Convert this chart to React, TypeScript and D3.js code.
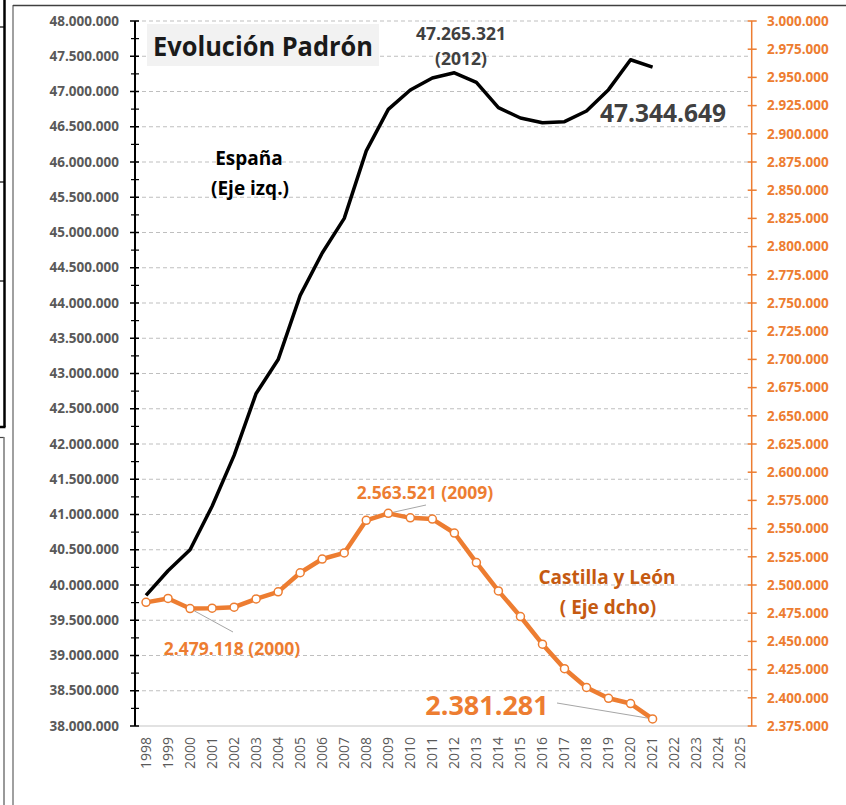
import React from "react";
import * as d3 from "d3";

const years: number[] = d3.range(1998, 2026);
const spainYears: number[] = d3.range(1998, 2022);
const spainValues: number[] = [
  39852651, 40202160, 40499791, 41116842, 41837894, 42717064, 43197684, 44108530,
  44708964, 45200737, 46157822, 46745807, 47021031, 47190493, 47265321, 47129783,
  46771341, 46624382, 46557008, 46572132, 46722980, 47026208, 47450795, 47344649,
];
const cylValues: number[] = [
  2484603, 2488062, 2479118, 2479425, 2480369, 2487646, 2493918, 2510849,
  2523020, 2528417, 2557330, 2563521, 2559515, 2558463, 2546078, 2519875,
  2494790, 2472052, 2447519, 2425801, 2409164, 2399548, 2394918, 2381281,
];
const leftTicks: number[] = d3.range(38000000, 48000001, 500000);
const leftMinor: number[] = d3.range(38250000, 48000000, 500000);
const rightTicks: number[] = d3.range(2375000, 3000001, 25000);

const W = 846, H = 805;
const X0 = 135, X1 = 751.7, Y0 = 726, Y1 = 21;
const ORANGE = "#ED7D31";
const DARK_ORANGE = "#C55A11";
const GRAY = "#595959";
const FONT = "'Open Sans', sans-serif";

const es = d3.formatLocale({ decimal: ",", thousands: ".", grouping: [3], currency: ["", "€"] });
const fmt = es.format(",d");

export default function App() {
  const x = d3.scaleBand<number>().domain(years).range([X0, X1]);
  const cx = (yr: number) => (x(yr) as number) + x.bandwidth() / 2;
  const yL = d3.scaleLinear().domain([38000000, 48000000]).range([Y0, Y1]);
  const yR = d3.scaleLinear().domain([2375000, 3000000]).range([Y0, Y1]);

  const spainLine = d3.line<number>().x((_, i) => cx(spainYears[i])).y((d) => yL(d));
  const cylLine = d3.line<number>().x((_, i) => cx(spainYears[i])).y((d) => yR(d));

  const i2000 = spainYears.indexOf(2000);
  const i2009 = spainYears.indexOf(2009);
  const i2021 = spainYears.indexOf(2021);

  return (
    <svg width={W} height={H} style={{ position: "absolute", left: 0, top: 0, background: "#fff" }} fontFamily={FONT}>
      {/* window frame artefacts */}
      <line x1={4.5} x2={4.5} y1={0} y2={427} stroke="#000" strokeWidth={2.5} />
      <line x1={0} x2={5.5} y1={427} y2={427} stroke="#000" strokeWidth={2.5} />
      {[27, 182, 281].map((yy) => (
        <line key={yy} x1={0} x2={4} y1={yy} y2={yy} stroke="#000" strokeWidth={1.2} />
      ))}
      <line x1={0} x2={4} y1={437.5} y2={437.5} stroke="#444" strokeWidth={1.2} />
      <line x1={4} x2={4} y1={437} y2={H} stroke="#777" strokeWidth={1.5} />
      <line x1={13} x2={13} y1={5} y2={H} stroke="#808080" strokeWidth={1.5} />
      <line x1={13} x2={W} y1={5.5} y2={5.5} stroke="#404040" strokeWidth={1.5} />

      {/* gridlines */}
      {leftTicks.filter((t) => t > 38000000).map((t) => (
        <line key={t} x1={X0} x2={X1} y1={yL(t)} y2={yL(t)} stroke="#BFBFBF" strokeWidth={1} strokeDasharray="4,3" />
      ))}
      <line x1={X0} x2={X1} y1={Y0} y2={Y0} stroke="#D9D9D9" strokeWidth={1.5} />

      {/* left axis */}
      <line x1={X0} x2={X0} y1={Y1} y2={Y0} stroke="#000" strokeWidth={2} />
      {leftTicks.map((t) => (
        <line key={t} x1={130} x2={139} y1={yL(t)} y2={yL(t)} stroke="#000" strokeWidth={1.5} />
      ))}
      {leftMinor.map((t) => (
        <line key={t} x1={131} x2={139} y1={yL(t)} y2={yL(t)} stroke="#000" strokeWidth={1.2} />
      ))}
      {leftTicks.map((t) => (
        <text key={t} x={119} y={yL(t)} dy="0.35em" textAnchor="end" fontSize={13.5} fontWeight={700} fill={GRAY}>
          {fmt(t)}
        </text>
      ))}

      {/* right axis */}
      <line x1={X1} x2={X1} y1={Y1} y2={Y0} stroke={ORANGE} strokeWidth={1.5} />
      {rightTicks.map((t) => (
        <line key={t} x1={X1 - 4} x2={X1 + 5} y1={yR(t)} y2={yR(t)} stroke={ORANGE} strokeWidth={1.5} />
      ))}
      {rightTicks.map((t) => (
        <text key={t} x={767} y={yR(t)} dy="0.35em" textAnchor="start" fontSize={13.5} fontWeight={700} fill={ORANGE}>
          {fmt(t)}
        </text>
      ))}

      {/* x axis labels */}
      {years.map((yr) => (
        <text key={yr} transform={`translate(${cx(yr) + 4.5},737) rotate(-90)`} textAnchor="end" fontSize={14} fill={GRAY}>
          {yr}
        </text>
      ))}

      {/* title */}
      <rect x={147} y={24} width={232} height={42} fill="#F2F2F2" />
      <text x={263} y={56} textAnchor="middle" fontSize={26} fontWeight={700} fill="#1a1a1a" textLength={220} lengthAdjust="spacingAndGlyphs">
        Evolución Padrón
      </text>

      {/* leader lines */}
      <line x1={cx(2000)} y1={yR(cylValues[i2000])} x2={233} y2={632} stroke="#A6A6A6" strokeWidth={1} />
      <line x1={cx(2009)} y1={yR(cylValues[i2009])} x2={426} y2={505} stroke="#A6A6A6" strokeWidth={1} />
      <line x1={cx(2021)} y1={yR(cylValues[i2021])} x2={557} y2={703} stroke="#A6A6A6" strokeWidth={1} />

      {/* series */}
      <path d={spainLine(spainValues) || ""} fill="none" stroke="#000" strokeWidth={3.5} strokeLinejoin="round" />
      <path d={cylLine(cylValues) || ""} fill="none" stroke={ORANGE} strokeWidth={4.5} strokeLinejoin="round" />
      {cylValues.map((v, i) => (
        <circle key={i} cx={cx(spainYears[i])} cy={yR(v)} r={4} fill="#fff" stroke={ORANGE} strokeWidth={1.5} />
      ))}

      {/* annotations */}
      <text x={461} y={40} textAnchor="middle" fontSize={17.5} fontWeight={700} fill="#404040">
        {fmt(spainValues[spainYears.indexOf(2012)])}
      </text>
      <text x={461} y={65} textAnchor="middle" fontSize={17.5} fontWeight={700} fill="#404040">
        (2012)
      </text>
      <text x={600} y={122} textAnchor="start" fontSize={24.5} fontWeight={700} fill="#404040">
        {fmt(spainValues[i2021])}
      </text>
      <text x={249} y={165} textAnchor="middle" fontSize={19} fontWeight={700} fill="#000">
        España
      </text>
      <text x={250} y={195} textAnchor="middle" fontSize={19} fontWeight={700} fill="#000">
        (Eje izq.)
      </text>
      <text x={425} y={499} textAnchor="middle" fontSize={17.5} fontWeight={700} fill={ORANGE}>
        {fmt(cylValues[i2009])} (2009)
      </text>
      <text x={607} y={584} textAnchor="middle" fontSize={19} fontWeight={700} fill={DARK_ORANGE}>
        Castilla y León
      </text>
      <text x={608} y={614} textAnchor="middle" fontSize={19} fontWeight={700} fill={DARK_ORANGE}>
        ( Eje dcho)
      </text>
      <text x={232} y={655} textAnchor="middle" fontSize={17.5} fontWeight={700} fill={ORANGE}>
        {fmt(cylValues[i2000])} (2000)
      </text>
      <text x={487} y={715} textAnchor="middle" fontSize={27} fontWeight={700} fill={ORANGE}>
        {fmt(cylValues[i2021])}
      </text>
    </svg>
  );
}
